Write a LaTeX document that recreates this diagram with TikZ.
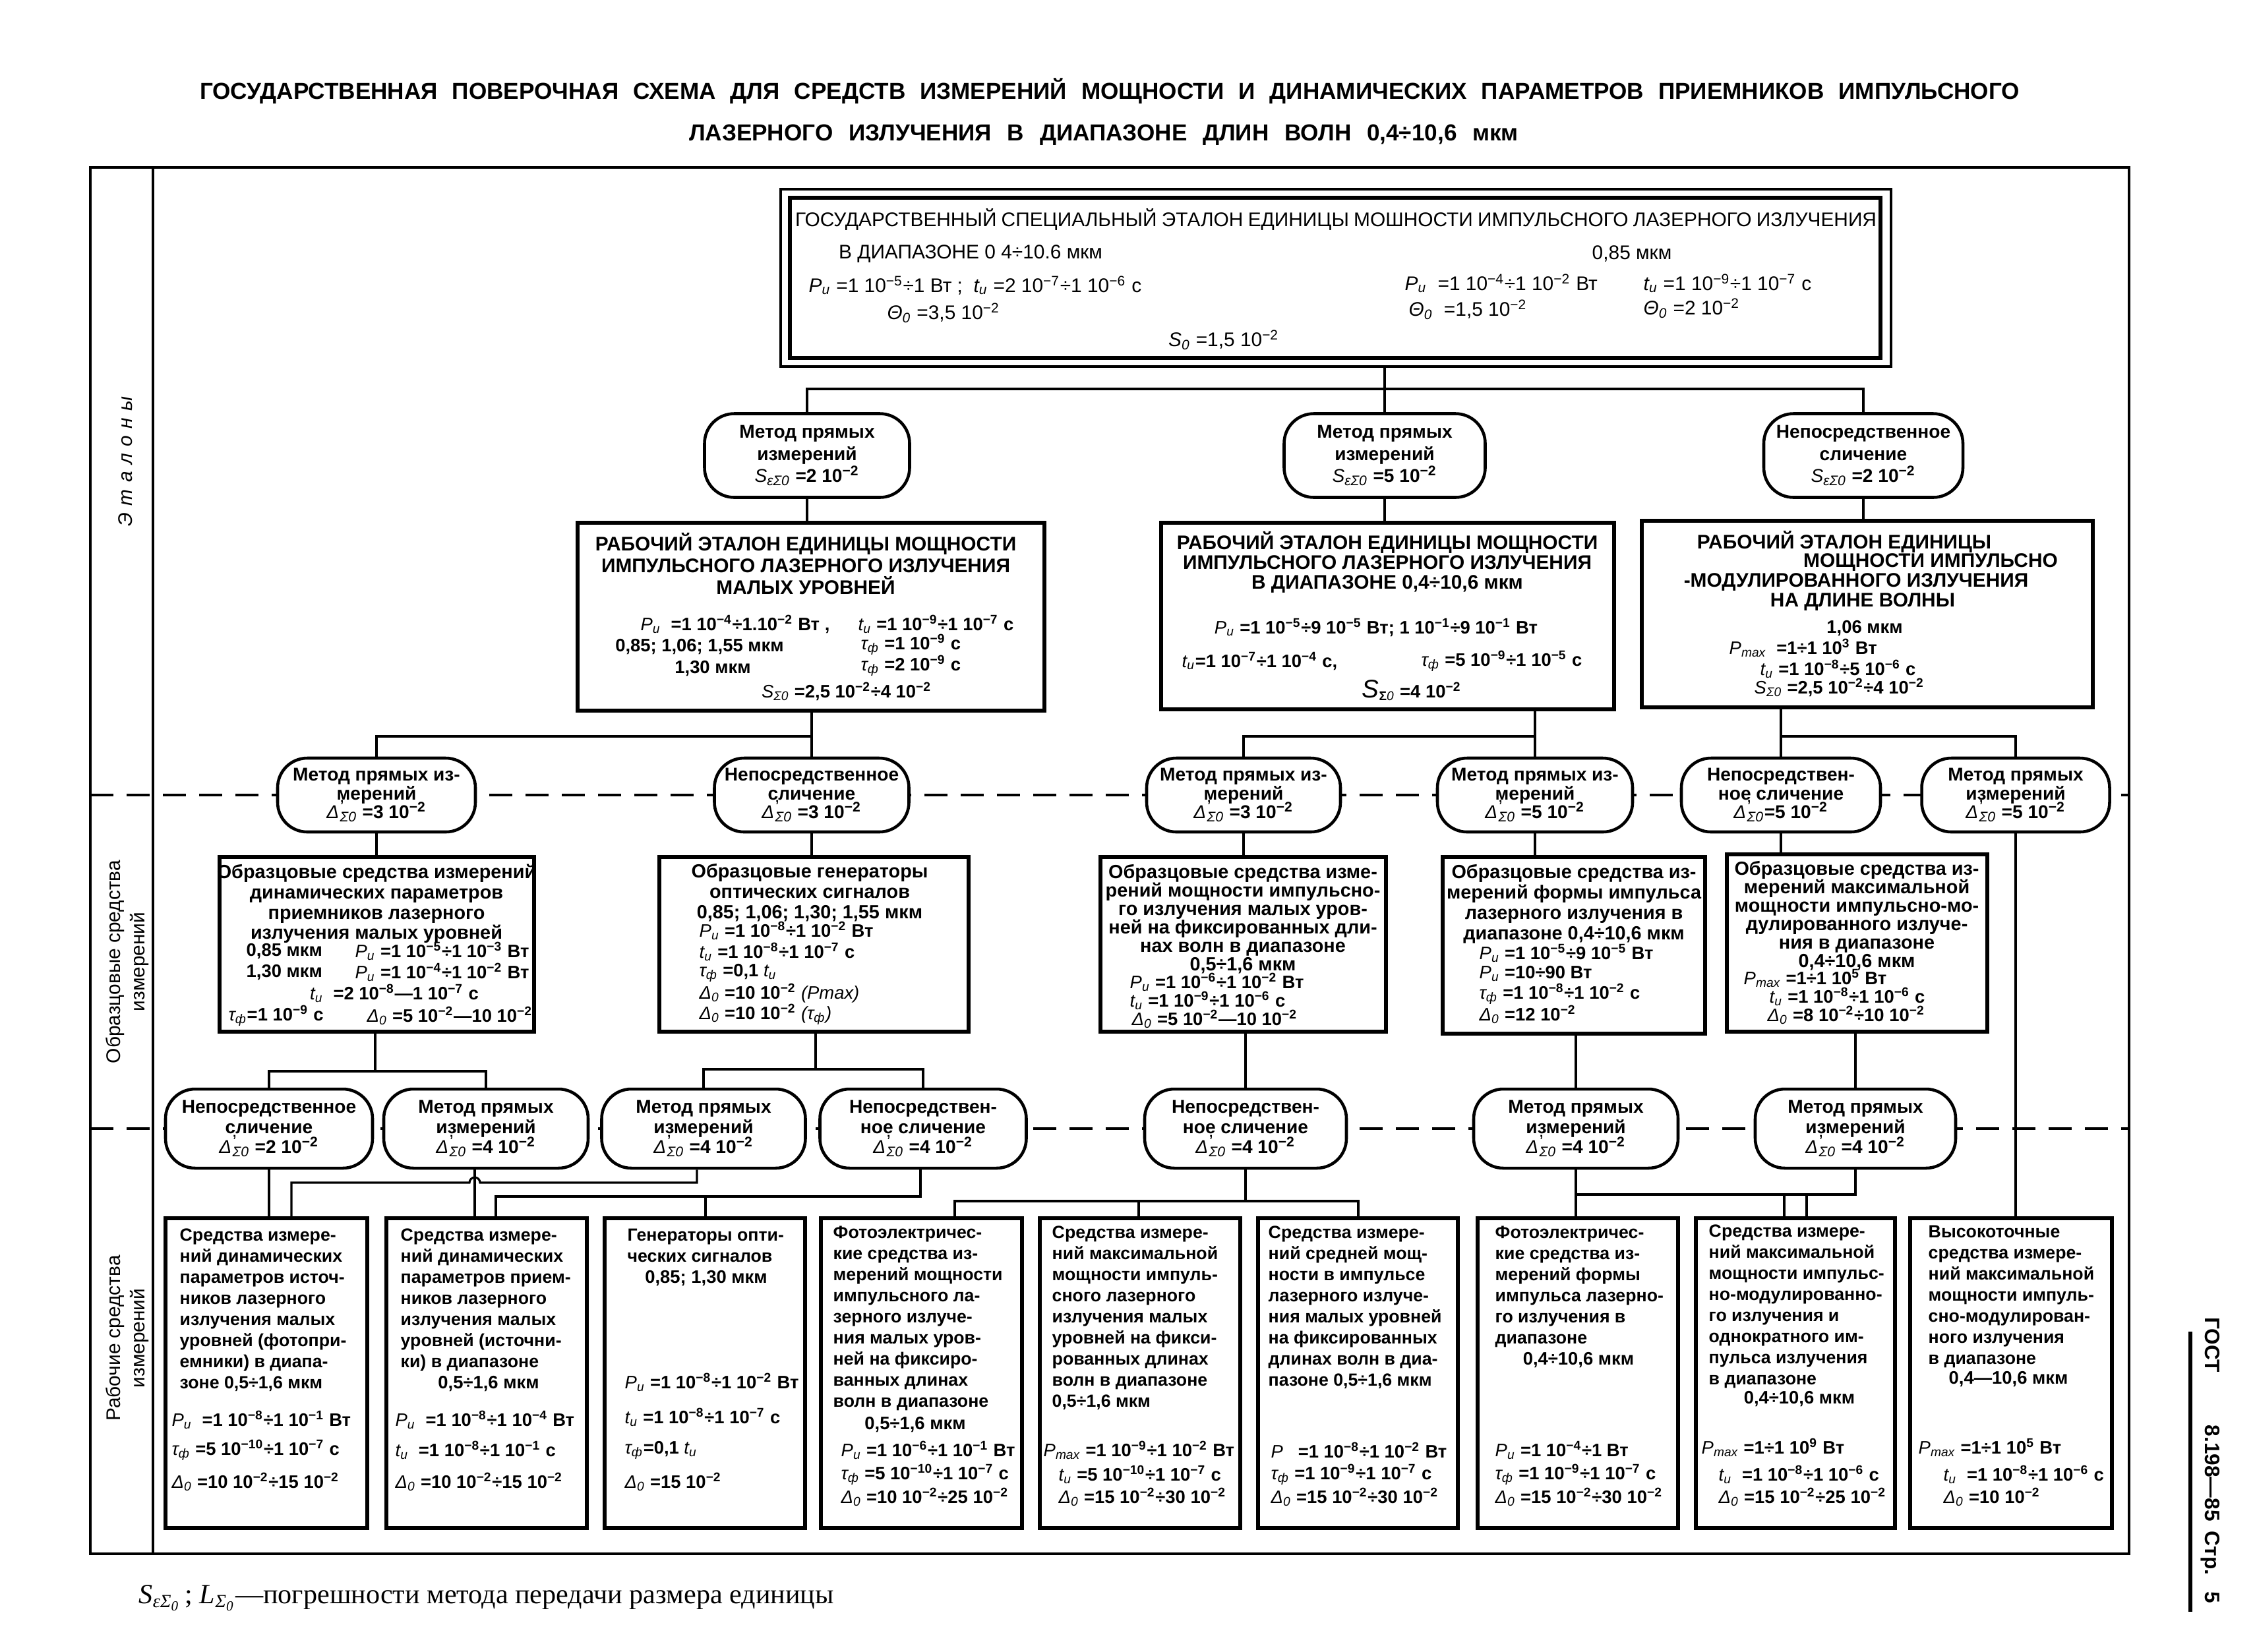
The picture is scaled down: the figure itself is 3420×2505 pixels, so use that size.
\documentclass[tikz,border=0pt]{standalone}
\usepackage{fontspec}
\setmainfont{Liberation Sans}
\newfontfamily\serifrm{Liberation Serif}
\usetikzlibrary{fit}
\newcommand\sy[1]{{\mdseries\itshape #1}}
\newcommand\sbs[1]{\textsubscript{\mdseries\itshape #1}}
\newcommand\ee[1]{10\textsuperscript{#1}}
\newcommand\xP{\sy{P}\sbs{и}}
\newcommand\xt{\sy{t}\sbs{и}}
\newcommand\xtau{\sy{τ}\sbs{ф}}
\newcommand\xD{\sy{Δ}\sbs{0}}
\newcommand\xDs{\sy{Δ}\kern0.05em\rlap{\raisebox{0.55ex}{\fontsize{8}{8}\selectfont\mdseries '}}\sbs{Σ0}}
\newcommand\xSe{\sy{S}\sbs{εΣ0}}
\newcommand\xSS{\sy{S}\sbs{Σ0}}
\newcommand\xPm{\sy{P}\sbs{max}}
\newcommand\xTh{\sy{Θ}\sbs{0}}
\newcommand\xSo{\sy{S}\sbs{0}}
\newcommand\fsz[2]{\fontsize{#1}{#2}\selectfont\lineskiplimit=-100pt\lineskip=0pt\relax}
\tikzset{
  frameline/.style={line width=1.1pt},
  sepline/.style={line width=1.2pt, dash pattern=on 3.5mm off 2mm},
  conn/.style={line width=0.9pt},
  ovalbox/.style={draw, line width=1.3pt, fill=white, rounded corners=4.5mm, inner sep=0pt, align=center},
  rectbox/.style={draw, line width=1.8pt, inner sep=0pt},
  txt/.style={inner sep=0pt, align=center},
  par/.style={inner sep=0pt, anchor=west, font=\bfseries\fsz{7.8}{8}},
  parc/.style={inner sep=0pt, anchor=center, font=\bfseries\fsz{7.8}{8}},
  desc/.style={inner sep=0pt, anchor=north west, align=left, font=\bfseries\fsz{7.6}{9.1}},
  capsB/.style={inner sep=0pt, align=center, font=\bfseries\fsz{8.5}{8.6}},
  tbt/.style={inner sep=0pt, font=\fsz{8.5}{9}},
  ov1/.style={ovalbox, minimum height=12.7mm, font=\bfseries\fsz{8}{9.6}},
  ov2/.style={ovalbox, minimum height=11.2mm, font=\bfseries\fsz{8}{8.2}},
  ov3/.style={ovalbox, minimum height=12mm, font=\bfseries\fsz{8}{8.6}},
}
\begin{document}
\begin{tikzpicture}[x=0.1mm,y=-0.1mm]
\path[use as bounding box, fill=white] (0,0) rectangle (3420,2505);

% ---------- title ----------
\node[inner sep=0pt, font=\bfseries\fsz{10}{11}] (title1) at (1683,138) {\makebox[276mm][s]{ГОСУДАРСТВЕННАЯ ПОВЕРОЧНАЯ СХЕМА ДЛЯ СРЕДСТВ ИЗМЕРЕНИЙ МОЩНОСТИ И ДИНАМИЧЕСКИХ ПАРАМЕТРОВ ПРИЕМНИКОВ ИМПУЛЬСНОГО}};
\node[inner sep=0pt, font=\bfseries\fsz{10}{11}] (title2) at (1674,205) {\makebox[125.8mm][s]{ЛАЗЕРНОГО ИЗЛУЧЕНИЯ В ДИАПАЗОНЕ ДЛИН ВОЛН 0,4÷10,6 мкм}};

% ---------- frame ----------
\coordinate (fTL) at (137,254); \coordinate (fTR) at (3229,254);
\coordinate (fBR) at (3229,2357); \coordinate (fBL) at (137,2357);
\coordinate (fTI) at (232,254); \coordinate (fBI) at (232,2357);
\draw[frameline] (fTL) -- (fTR) -- (fBR) -- (fBL) -- cycle;
\draw[frameline] (fTI) -- (fBI);
\coordinate (d1l) at (137,1206); \coordinate (d1r) at (3229,1206);
\coordinate (d2l) at (137,1712); \coordinate (d2r) at (3229,1712);
\draw[sepline] (d1l) -- (d1r);
\draw[sepline] (d2l) -- (d2r);

\node[rotate=90, inner sep=0pt, font=\itshape\fsz{8.5}{10}] (lab1) at (190,700) {Э\hspace{0.35em}т\hspace{0.35em}а\hspace{0.35em}л\hspace{0.35em}о\hspace{0.35em}н\hspace{0.35em}ы};
\node[rotate=90, inner sep=0pt, align=center, font=\fsz{8.5}{10.5}] (lab2) at (193,1459) {Образцовые средства\\измерений};
\node[rotate=90, inner sep=0pt, align=center, font=\fsz{8.5}{10.5}] (lab3) at (193,2030) {Рабочие средства\\измерений};

% ---------- state standard ----------
\node[draw, line width=0.9pt, inner sep=0pt, fit={(1184,287) (2868,556)}] (tb) {};
\node[draw, line width=1.8pt, inner sep=0pt, fit={(1198,300) (2852,543)}] (tbi) {};
\node[tbt] (tb1) at (2026,333) {\makebox[164mm][s]{ГОСУДАРСТВЕННЫЙ СПЕЦИАЛЬНЫЙ ЭТАЛОН ЕДИНИЦЫ МОШНОСТИ ИМПУЛЬСНОГО ЛАЗЕРНОГО ИЗЛУЧЕНИЯ}};
\node[tbt] (tb2) at (1472,385) {В ДИАПАЗОНЕ 0 4÷10.6 мкм};
\node[tbt] (tb3) at (2475,385) {0,85 мкм};
\node[tbt, anchor=west] (tb4) at (1226,433) {\xP\ =1 \ee{−5}÷1 Вт ;\ \ \xt\ =2 \ee{−7}÷1 \ee{−6} с};
\node[tbt] (tb5) at (1431,475) {\xTh\ =3,5 \ee{−2}};
\node[tbt, anchor=west] (tb6) at (2130,430) {\xP\ \ =1 \ee{−4}÷1 \ee{−2} Вт};
\node[tbt, anchor=west] (tb7) at (2492,430) {\xt\ =1 \ee{−9}÷1 \ee{−7} с};
\node[tbt, anchor=west] (tb8) at (2136,470) {\xTh\ \ =1,5 \ee{−2}};
\node[tbt, anchor=west] (tb9) at (2492,468) {\xTh\ =2 \ee{−2}};
\node[tbt] (tb10) at (1856,516) {\xSo\ =1,5 \ee{−2}};

% ---------- row 1 methods ----------
\node[ov1, minimum width=31.1mm] (o1) at (1224,691) {Метод прямых\\измерений\\\xSe\ =2 \ee{−2}};
\node[ov1, minimum width=30.5mm] (o2) at (2100,691) {Метод прямых\\измерений\\\xSe\ =5 \ee{−2}};
\node[ov1, minimum width=30.2mm] (o3) at (2826,691) {Непосредственное\\сличение\\\xSe\ =2 \ee{−2}};

% ---------- working standards ----------
\node[rectbox, fit={(876,793) (1584,1078)}] (b1) {};
\node[rectbox, fit={(1761,793) (2448,1076)}] (b2) {};
\node[rectbox, fit={(2490,790) (3174,1073)}] (b3) {};

\node[capsB, font=\bfseries\fsz{8.5}{9.3}] (b1t) at (1222,855) {РАБОЧИЙ ЭТАЛОН ЕДИНИЦЫ МОЩНОСТИ\\ИМПУЛЬСНОГО ЛАЗЕРНОГО ИЗЛУЧЕНИЯ\\МАЛЫХ УРОВНЕЙ};
\node[par] (b1p1) at (971,947) {\xP\ \ =1 \ee{−4}÷1.\ee{−2} Вт ,};
\node[parc] (b1p2) at (1061,981) {0,85; 1,06; 1,55 мкм};
\node[parc] (b1p3) at (1081,1014) {1,30 мкм};
\node[par] (b1p4) at (1301,947) {\xt\ =1 \ee{−9}÷1 \ee{−7} с};
\node[par] (b1p5) at (1305,978) {\xtau\ =1 \ee{−9} с};
\node[par] (b1p6) at (1305,1010) {\xtau\ =2 \ee{−9} с};
\node[parc] (b1p7) at (1284,1049) {\xSS\ =2,5 \ee{−2}÷4 \ee{−2}};

\node[capsB] (b2t) at (2104,853) {РАБОЧИЙ ЭТАЛОН ЕДИНИЦЫ МОЩНОСТИ\\ИМПУЛЬСНОГО ЛАЗЕРНОГО ИЗЛУЧЕНИЯ\\В ДИАПАЗОНЕ 0,4÷10,6 мкм};
\node[parc] (b2p1) at (2087,952) {\xP\ =1 \ee{−5}÷9 \ee{−5} Вт; 1 \ee{−1}÷9 \ee{−1} Вт};
\node[par] (b2p2) at (1792,1003) {\xt=1 \ee{−7}÷1 \ee{−4} с,};
\node[par] (b2p3) at (2155,1003) {\xtau\ =5 \ee{−9}÷1 \ee{−5} с};
\node[parc] (b2p4) at (2141,1047) {{\fsz{11}{12}\sy{S}}\textsubscript{Σ\sy{0}}\ =4 \ee{−2}};

\node[capsB] (b3t1) at (2797,822) {РАБОЧИЙ ЭТАЛОН ЕДИНИЦЫ};
\node[capsB] (b3t2) at (2928,853) {МОЩНОСТИ ИМПУЛЬСНО};
\node[capsB] (b3t3) at (2815,883) {-МОДУЛИРОВАННОГО ИЗЛУЧЕНИЯ};
\node[capsB] (b3t4) at (2825,913) {НА ДЛИНЕ ВОЛНЫ};
\node[parc] (b3p1) at (2828,953) {1,06 мкм};
\node[par] (b3p2) at (2622,983) {\xPm\ \ =1÷1 \ee{3} Вт};
\node[par] (b3p3) at (2669,1015) {\xt\ =1 \ee{−8}÷5 \ee{−6} с};
\node[par] (b3p4) at (2660,1043) {\xSS\ =2,5 \ee{−2}÷4 \ee{−2}};

% ---------- row 2 methods ----------
\node[ov2, minimum width=30mm] (r2a) at (571,1206) {Метод прямых из-\\мерений\\\xDs\ =3 \ee{−2}};
\node[ov2, minimum width=29.5mm] (r2b) at (1231,1206) {Непосредственное\\сличение\\\xDs\ =3 \ee{−2}};
\node[ov2, minimum width=29.4mm] (r2c) at (1886,1206) {Метод прямых из-\\мерений\\\xDs\ =3 \ee{−2}};
\node[ov2, minimum width=29.6mm] (r2d) at (2328,1206) {Метод прямых из-\\мерений\\\xDs\ =5 \ee{−2}};
\node[ov2, minimum width=30.2mm] (r2e) at (2701,1206) {Непосредствен-\\ное сличение\\\xDs=5 \ee{−2}};
\node[ov2, minimum width=28.5mm] (r2f) at (3057,1206) {Метод прямых\\измерений\\\xDs\ =5 \ee{−2}};

% ---------- reference means ----------
\node[rectbox, fit={(333,1300) (810,1565)}] (m1) {};
\node[rectbox, fit={(1000,1300) (1469,1565)}] (m2) {};
\node[rectbox, fit={(1669,1300) (2102,1565)}] (m3) {};
\node[rectbox, fit={(2188,1300) (2586,1568)}] (m4) {};
\node[rectbox, fit={(2619,1296) (3014,1565)}] (m5) {};

\node[txt, anchor=north, font=\bfseries\fsz{8.2}{8.8}] (m1t) at (571,1310) {Образцовые средства измерений\\динамических параметров\\приемников лазерного\\излучения малых уровней};
\node[par] (m1p1) at (373,1443) {0,85 мкм};
\node[par] (m1p2) at (538,1443) {\xP\ =1 \ee{−5}÷1 \ee{−3} Вт};
\node[par] (m1p3) at (373,1475) {1,30 мкм};
\node[par] (m1p4) at (538,1475) {\xP\ =1 \ee{−4}÷1 \ee{−2} Вт};
\node[parc] (m1p5) at (598,1507) {\xt\ \ =2 \ee{−8}—1 \ee{−7} с};
\node[par] (m1p6) at (346,1541) {\xtau=1 \ee{−9} с};
\node[par] (m1p7) at (556,1541) {\xD\ =5 \ee{−2}—10 \ee{−2}};

\node[txt, anchor=north, font=\bfseries\fsz{8.2}{8.8}] (m2t) at (1228,1310) {Образцовые генераторы\\оптических сигналов\\0,85; 1,06; 1,30; 1,55 мкм};
\node[par] (m2p1) at (1060,1412) {\xP\ =1 \ee{−8}÷1 \ee{−2} Вт};
\node[par] (m2p2) at (1060,1444) {\xt\ =1 \ee{−8}÷1 \ee{−7} с};
\node[par] (m2p3) at (1060,1476) {\xtau\ =0,1 \xt};
\node[par] (m2p4) at (1060,1507) {\xD\ =10 \ee{−2} \sy{(Pmax)}};
\node[par] (m2p5) at (1060,1539) {\xD\ =10 \ee{−2} \sy{(}\xtau\sy{)}};

\node[txt, anchor=north, font=\bfseries\fsz{8.2}{7.95}] (m3t) at (1885,1311) {Образцовые средства изме-\\рений мощности импульсно-\\го излучения малых уров-\\ней на фиксированных дли-\\нах волн в диапазоне\\0,5÷1,6 мкм};
\node[par] (m3p1) at (1713,1490) {\xP\ =1 \ee{−6}÷1 \ee{−2} Вт};
\node[par] (m3p2) at (1713,1518) {\xt\ =1 \ee{−9}÷1 \ee{−6} с};
\node[par] (m3p3) at (1716,1546) {\xD\ =5 \ee{−2}—10 \ee{−2}};

\node[txt, anchor=north, font=\bfseries\fsz{8.2}{8.8}] (m4t) at (2387,1311) {Образцовые средства из-\\мерений формы импульса\\лазерного излучения в\\диапазоне 0,4÷10,6 мкм};
\node[par] (m4p1) at (2243,1446) {\xP\ =1 \ee{−5}÷9 \ee{−5} Вт};
\node[par] (m4p2) at (2243,1477) {\xP\ =10÷90 Вт};
\node[par] (m4p3) at (2243,1508) {\xtau\ =1 \ee{−8}÷1 \ee{−2} с};
\node[par] (m4p4) at (2243,1539) {\xD\ =12 \ee{−2}};

\node[txt, anchor=north, font=\bfseries\fsz{8.2}{7.95}] (m5t) at (2816,1306) {Образцовые средства из-\\мерений максимальной\\мощности импульсно-мо-\\дулированного излуче-\\ния в диапазоне\\0,4÷10,6 мкм};
\node[par] (m5p1) at (2644,1484) {\xPm\ =1÷1 \ee{5} Вт};
\node[par] (m5p2) at (2683,1512) {\xt\ =1 \ee{−8}÷1 \ee{−6} с};
\node[par] (m5p3) at (2680,1540) {\xD\ =8 \ee{−2}÷10 \ee{−2}};

% ---------- row 3 methods ----------
\node[ov3, minimum width=31.4mm] (r3a) at (408,1712) {Непосредственное\\сличение\\\xDs\ =2 \ee{−2}};
\node[ov3, minimum width=31mm] (r3b) at (737,1712) {Метод прямых\\измерений\\\xDs\ =4 \ee{−2}};
\node[ov3, minimum width=30.9mm] (r3c) at (1067,1712) {Метод прямых\\измерений\\\xDs\ =4 \ee{−2}};
\node[ov3, minimum width=31.3mm] (r3d) at (1400,1712) {Непосредствен-\\ное сличение\\\xDs\ =4 \ee{−2}};
\node[ov3, minimum width=30.6mm] (r3e) at (1889,1712) {Непосредствен-\\ное сличение\\\xDs\ =4 \ee{−2}};
\node[ov3, minimum width=31mm] (r3f) at (2390,1712) {Метод прямых\\измерений\\\xDs\ =4 \ee{−2}};
\node[ov3, minimum width=30.4mm] (r3g) at (2814,1712) {Метод прямых\\измерений\\\xDs\ =4 \ee{−2}};

% ---------- working means ----------
\node[rectbox, fit={(251,1848) (557,2318)}] (w1) {};
\node[rectbox, fit={(586,1848) (890,2318)}] (w2) {};
\node[rectbox, fit={(917,1848) (1221,2318)}] (w3) {};
\node[rectbox, fit={(1245,1848) (1550,2318)}] (w4) {};
\node[rectbox, fit={(1577,1848) (1881,2318)}] (w5) {};
\node[rectbox, fit={(1908,1848) (2211,2318)}] (w6) {};
\node[rectbox, fit={(2241,1848) (2545,2318)}] (w7) {};
\node[rectbox, fit={(2572,1848) (2874,2318)}] (w8) {};
\node[rectbox, fit={(2897,1848) (3203,2318)}] (w9) {};

\node[desc] (w1t) at (272,1863) {Средства измере-\\ний динамических\\параметров источ-\\ников лазерного\\излучения малых\\уровней (фотопри-\\емники) в диапа-\\зоне 0,5÷1,6 мкм};
\node[par] (w1p1) at (260,2154) {\xP\ \ =1 \ee{−8}÷1 \ee{−1} Вт};
\node[par] (w1p2) at (260,2200) {\xtau\ =5 \ee{−10}÷1 \ee{−7} с};
\node[par] (w1p3) at (260,2248) {\xD\ =10 \ee{−2}÷15 \ee{−2}};

\node[desc] (w2t) at (607,1863) {Средства измере-\\ний динамических\\параметров прием-\\ников лазерного\\излучения малых\\уровней (источни-\\ки) в диапазоне};
\node[parc] (w2c) at (741,2099) {0,5÷1,6 мкм};
\node[par] (w2p1) at (599,2154) {\xP\ \ =1 \ee{−8}÷1 \ee{−4} Вт};
\node[par] (w2p2) at (599,2200) {\xt\ \ =1 \ee{−8}÷1 \ee{−1} с};
\node[par] (w2p3) at (599,2248) {\xD\ =10 \ee{−2}÷15 \ee{−2}};

\node[desc] (w3t) at (951,1863) {Генераторы опти-\\ческих сигналов};
\node[parc] (w3c) at (1071,1939) {0,85; 1,30 мкм};
\node[par] (w3p1) at (947,2097) {\xP\ =1 \ee{−8}÷1 \ee{−2} Вт};
\node[par] (w3p2) at (947,2150) {\xt\ =1 \ee{−8}÷1 \ee{−7} с};
\node[par] (w3p3) at (947,2200) {\xtau=0,1 \xt};
\node[par] (w3p4) at (947,2248) {\xD\ =15 \ee{−2}};

\node[desc] (w4t) at (1263,1859) {Фотоэлектричес-\\кие средства из-\\мерений мощности\\импульсного ла-\\зерного излуче-\\ния малых уров-\\ней на фиксиро-\\ванных длинах\\волн в диапазоне};
\node[parc] (w4c) at (1388,2161) {0,5÷1,6 мкм};
\node[par] (w4p1) at (1275,2200) {\xP\ =1 \ee{−6}÷1 \ee{−1} Вт};
\node[par] (w4p2) at (1275,2237) {\xtau\ =5 \ee{−10}÷1 \ee{−7} с};
\node[par] (w4p3) at (1275,2271) {\xD\ =10 \ee{−2}÷25 \ee{−2}};

\node[desc] (w5t) at (1595,1859) {Средства измере-\\ний максимальной\\мощности импуль-\\сного лазерного\\излучения малых\\уровней на фикси-\\рованных длинах\\волн в диапазоне\\0,5÷1,6 мкм};
\node[par] (w5p1) at (1582,2200) {\xPm\ =1 \ee{−9}÷1 \ee{−2} Вт};
\node[par] (w5p2) at (1605,2237) {\xt\ =5 \ee{−10}÷1 \ee{−7} с};
\node[par] (w5p3) at (1605,2271) {\xD\ =15 \ee{−2}÷30 \ee{−2}};

\node[desc] (w6t) at (1923,1859) {Средства измере-\\ний средней мощ-\\ности в импульсе\\лазерного излуче-\\ния малых уровней\\на фиксированных\\длинах волн в диа-\\пазоне 0,5÷1,6 мкм};
\node[par] (w6p1) at (1927,2200) {\sy{P}\ \ \ =1 \ee{−8}÷1 \ee{−2} Вт};
\node[par] (w6p2) at (1927,2237) {\xtau\ =1 \ee{−9}÷1 \ee{−7} с};
\node[par] (w6p3) at (1927,2271) {\xD\ =15 \ee{−2}÷30 \ee{−2}};

\node[desc] (w7t) at (2267,1859) {Фотоэлектричес-\\кие средства из-\\мерений формы\\импульса лазерно-\\го излучения в\\диапазоне};
\node[parc] (w7c) at (2394,2063) {0,4÷10,6 мкм};
\node[par] (w7p1) at (2267,2200) {\xP\ =1 \ee{−4}÷1 Вт};
\node[par] (w7p2) at (2267,2237) {\xtau\ =1 \ee{−9}÷1 \ee{−7} с};
\node[par] (w7p3) at (2267,2271) {\xD\ =15 \ee{−2}÷30 \ee{−2}};

\node[desc] (w8t) at (2591,1857) {Средства измере-\\ний максимальной\\мощности импульс-\\но-модулированно-\\го излучения и\\однократного им-\\пульса излучения\\в диапазоне};
\node[parc] (w8c) at (2729,2122) {0,4÷10,6 мкм};
\node[par] (w8p1) at (2580,2196) {\xPm\ =1÷1 \ee{9} Вт};
\node[par] (w8p2) at (2606,2237) {\xt\ \ =1 \ee{−8}÷1 \ee{−6} с};
\node[par] (w8p3) at (2606,2271) {\xD\ =15 \ee{−2}÷25 \ee{−2}};

\node[desc] (w9t) at (2924,1858) {Высокоточные\\средства измере-\\ний максимальной\\мощности импуль-\\сно-модулирован-\\ного излучения\\в диапазоне};
\node[parc] (w9c) at (3046,2092) {0,4—10,6 мкм};
\node[par] (w9p1) at (2909,2196) {\xPm\ =1÷1 \ee{5} Вт};
\node[par] (w9p2) at (2947,2237) {\xt\ \ =1 \ee{−8}÷1 \ee{−6} с};
\node[par] (w9p3) at (2947,2271) {\xD\ =10 \ee{−2}};

% ---------- connectors ----------
\coordinate (h0) at (2100,590);
\draw[conn] (tb.south -| o2.north) -- (o2.north);
\draw[conn] (o1.north) |- (h0) -| (o3.north);
\draw[conn] (o1.south) -- (o1.south |- b1.north);
\draw[conn] (o2.south) -- (o2.south |- b2.north);
\draw[conn] (o3.south) -- (o3.south |- b3.north);

\coordinate (h1) at (1231,1117);
\coordinate (h2) at (2328,1117);
\coordinate (h3) at (2701,1117);
\draw[conn] (b1.south -| r2b.north) -- (r2b.north);
\draw[conn] (r2a.north) |- (h1);
\draw[conn] (b2.south -| r2d.north) -- (r2d.north);
\draw[conn] (r2c.north) |- (h2);
\draw[conn] (b3.south -| r2e.north) -- (r2e.north);
\draw[conn] (r2f.north) |- (h3);

\draw[conn] (r2a.south) -- (r2a.south |- m1.north);
\draw[conn] (r2b.south) -- (r2b.south |- m2.north);
\draw[conn] (r2c.south) -- (r2c.south |- m3.north);
\draw[conn] (r2d.south) -- (r2d.south |- m4.north);
\draw[conn] (r2e.south) -- (r2e.south |- m5.north);

\coordinate (k1) at (569,1625);
\coordinate (k2) at (1237,1622);
\draw[conn] (m1.south -| k1) -- (k1);
\draw[conn] (r3a.north) |- (k1);
\draw[conn] (r3b.north) |- (k1);
\draw[conn] (m2.south -| k2) -- (k2);
\draw[conn] (r3c.north) |- (k2);
\draw[conn] (r3d.north) |- (k2);
\draw[conn] (m3.south -| r3e.north) -- (r3e.north);
\draw[conn] (m4.south -| r3f.north) -- (r3f.north);
\draw[conn] (m5.south -| r3g.north) -- (r3g.north);

% row 3 to working means
\draw[conn] (r3a.south) -- (r3a.south |- w1.north);
\coordinate (c1) at (442,1794);
\coordinate (c1b) at (1057,1794);
\coordinate (c1h) at (728,1794);
\draw[conn] (c1b |- r3c.south) -- (c1b) -- (c1h) arc[start angle=0, end angle=-180, radius=8] -- (c1) -- (c1 |- w1.north);
\coordinate (c2) at (720,1800);
\draw[conn] (c2 |- r3b.south) -- (c2 |- w2.north);
\coordinate (c3) at (752,1815);
\coordinate (c3b) at (1396,1815);
\coordinate (c4) at (1070,1815);
\draw[conn] (c3b |- r3d.south) -- (c3b) -- (c3) -- (c3 |- w2.north);
\draw[conn] (c4) -- (c4 |- w3.north);
\coordinate (c5) at (1448,1822);
\coordinate (c6) at (2060,1822);
\coordinate (c7) at (1727,1822);
\draw[conn] (r3e.south) -- (r3e.south |- c5);
\draw[conn] (c5 |- w4.north) -- (c5) -- (c6) -- (c6 |- w6.north);
\draw[conn] (c7) -- (c7 |- w5.north);
\draw[conn] (r3f.south) -- (r3f.south |- w7.north);
\coordinate (c8) at (2390,1812);
\coordinate (c9) at (2706,1812);
\coordinate (c10) at (2740,1812);
\draw[conn] (r3g.south) -- (r3g.south |- c8) -- (c8);
\draw[conn] (c9) -- (c9 |- w8.north);
\draw[conn] (c10) -- (c10 |- w8.north);
\draw[conn] (r2f.south) -- (r2f.south |- w9.north);

% ---------- footnote & page mark ----------
\node[anchor=west, inner sep=0pt, font=\serifrm\fsz{12}{13}] (fn) at (210,2424) {\textit{S}\textsubscript{\textit{εΣ}\textsubscript{\textit{0}}}\,; \textit{L}\textsubscript{\textit{Σ}\textsubscript{\textit{0}}}—погрешности метода передачи размера единицы};
\coordinate (g1) at (3322,2020); \coordinate (g2) at (3322,2445);
\draw[line width=1.8pt] (g1) -- (g2);
\node[rotate=-90, inner sep=0pt, font=\bfseries\fsz{9}{10}] (gost) at (3352,2215) {ГОСТ\hspace{8mm}8.198—85\hspace{1.5mm}Стр.\hspace{2.5mm}5};
\end{tikzpicture}
\end{document}
